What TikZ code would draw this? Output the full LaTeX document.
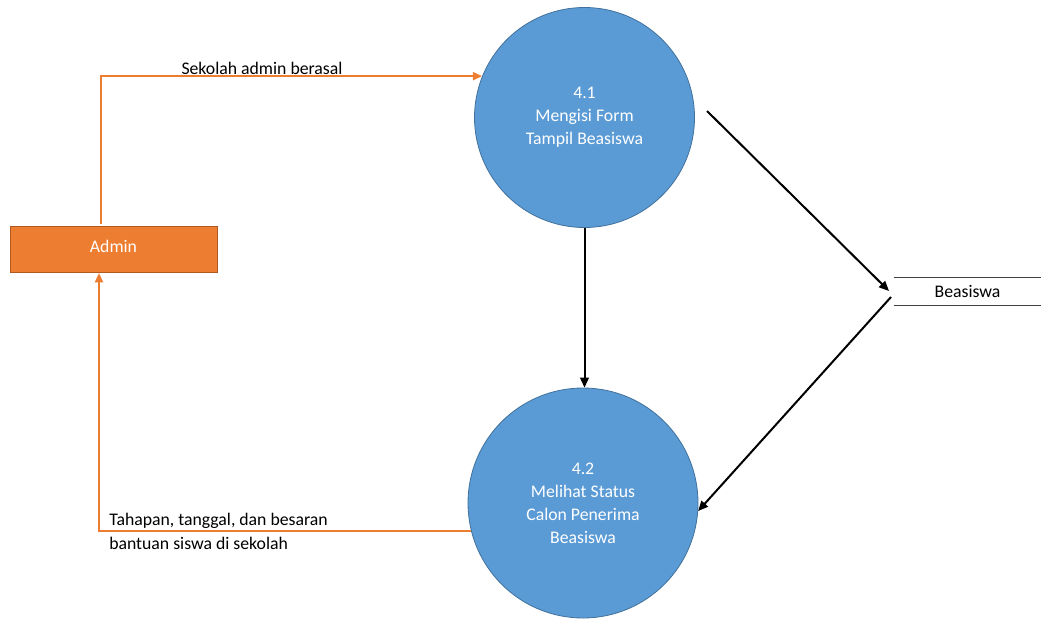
\documentclass[tikz,border=0pt]{standalone}
\usepackage{fontspec}
\setmainfont{Carlito}
\usetikzlibrary{arrows.meta}
\definecolor{procblue}{HTML}{5B9BD5}
\definecolor{procedge}{HTML}{41719C}
\definecolor{entorange}{HTML}{ED7D31}
\definecolor{entedge}{HTML}{AE5A21}
\definecolor{storeline}{HTML}{404040}
\tikzset{
  process/.style={circle, fill=procblue, draw=procedge, line width=0.6pt,
    text=white, align=center, font=\fontsize{13.3}{17.3}\selectfont, inner sep=0pt},
  entity/.style={rectangle, fill=entorange, draw=entedge, line width=0.6pt,
    text=white, font=\fontsize{13.3}{15}\selectfont, minimum width=155.25pt, minimum height=34.5pt},
  datastore/.style={rectangle, minimum width=110.25pt, minimum height=20.25pt,
    font=\fontsize{13.3}{15}\selectfont},
  orangeflow/.style={draw=entorange, line width=1.5pt,
    -{Triangle[length=7pt,width=6pt]}},
  blackflow/.style={draw=black, line width=1.5pt,
    -{Triangle[length=7.5pt,width=6.5pt]}},
  flowlabel/.style={font=\fontsize{13.3}{18}\selectfont, text=black, inner sep=0pt}
}
\begin{document}
\begin{tikzpicture}[x=0.75pt, y=-0.75pt]
  \useasboundingbox (0,0) rectangle (1041,620);

  % processes
  \node[process, minimum size=165pt] (p41) at (584.5,117.5)
    {4.1\\Mengisi Form\\Tampil Beasiswa};
  \node[process, minimum size=172.5pt] (p42) at (583,503)
    {4.2\\Melihat Status\\Calon Penerima\\Beasiswa};

  % external entity
  \node[entity] (admin) at (113.5,249) {\raisebox{4pt}{Admin}};

  % data store (open rectangle)
  \node[datastore] (store) at (967.5,291.5) {Beasiswa};
  \draw[storeline, line width=0.8pt] (store.north west) -- (store.north east);
  \draw[storeline, line width=0.8pt] (store.south west) -- (store.south east);

  % orange flows between Admin and the processes
  \coordinate (aout) at (101,224);
  \coordinate (ain) at (99,273);
  \draw[orangeflow] (aout) |- (p41.158);
  \draw[orangeflow] (p42.194.5) -| (ain);
  \node[flowlabel] (lbl1) at (262,68) {Sekolah admin berasal};
  \node[flowlabel, anchor=north west, align=left] (lbl2) at (109,513)
    {Tahapan, tanggal, dan besaran\\bantuan siswa di sekolah};

  % black flows
  \draw[blackflow] (p41.south) -- (p41.south |- p42.north);
  \coordinate (d1) at (707,111);
  \coordinate (s1) at (889,291);
  \coordinate (s2) at (891,297);
  \draw[blackflow] (d1) -- (s1);
  \draw[blackflow] (s2) -- (p42.-4);
\end{tikzpicture}
\end{document}
